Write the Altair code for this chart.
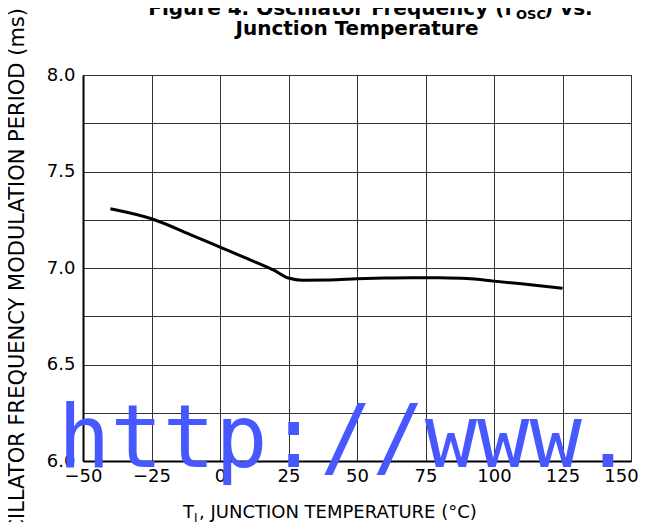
import altair as alt
import pandas as pd

# Curve data
temps = [-40, -25, -10, 0, 10, 20, 25, 30, 40, 50, 60, 70, 80, 90, 100, 110, 125]
period = [7.307, 7.255, 7.168, 7.108, 7.048, 6.986, 6.948, 6.937, 6.938,
          6.944, 6.948, 6.950, 6.949, 6.945, 6.932, 6.918, 6.895]

x_ticks = [-50, -25, 0, 25, 50, 75, 100, 125, 150]
y_ticks = [6.0, 6.25, 6.5, 6.75, 7.0, 7.25, 7.5, 7.75, 8.0]

title_line1_main = "Figure 4. Oscillator Frequency (f"
title_line1_sub = "OSC"
title_line1_end = ") vs."
title_line2 = "Junction Temperature"
xlabel_main = "T"
xlabel_sub = "J"
xlabel_end = ", JUNCTION TEMPERATURE (°C)"
ylabel = "OSCILLATOR FREQUENCY MODULATION PERIOD (ms)"
watermark = "http://www.l"

W, H = 548, 386
FONT = "DejaVu Sans"

df = pd.DataFrame({"t": temps, "p": period})

line = alt.Chart(df).mark_line(color="black", strokeWidth=3, interpolate="monotone").encode(
    x=alt.X("t:Q", scale=alt.Scale(domain=[-50, 150], nice=False, zero=False),
            axis=alt.Axis(values=x_ticks, title=None, grid=True, ticks=False,
                          labelPadding=6, labelFontSize=18, labelFont=FONT, labelColor="black",
                          labelExpr="format(datum.value, 'd')",
                          labelOffset={"condition": {"test": "datum.value == 150", "value": -10},
                                       "value": 0},
                          domainColor="black", domainWidth=2,
                          gridColor="#333", gridWidth=1, gridOpacity=1, labelFlush=False,
                          labelOverlap=False)),
    y=alt.Y("p:Q", scale=alt.Scale(domain=[6.0, 8.0], nice=False, zero=False),
            axis=alt.Axis(values=y_ticks, title=None, grid=True, ticks=False,
                          labelPadding=8, labelFontSize=18, labelFont=FONT, labelColor="black",
                          labelExpr="datum.value % 0.5 == 0 ? format(datum.value, '.1f') : ''",
                          domainColor="black", domainWidth=2,
                          gridColor="#333", gridWidth=1, gridOpacity=1, labelFlush=False,
                          labelOverlap=False)),
)

def txt(s, x, y, size, bold=False, align="left", baseline="alphabetic", angle=0,
        font=FONT, color="black"):
    kw = dict(align=align, baseline=baseline, fontSize=size, font=font, color=color,
              fontWeight="bold" if bold else "normal")
    if angle:
        kw["angle"] = angle
    return alt.Chart(pd.DataFrame({"s": [s]})).mark_text(**kw).encode(
        x=alt.value(x), y=alt.value(y), text="s:N")

layers = [
    line,
    txt(title_line1_main, 430, -60, 20, bold=True, align="right"),
    txt(title_line1_sub, 433, -56, 13, bold=True),
    txt(title_line1_end, 461, -60, 20, bold=True),
    txt(title_line2, W / 2, -40, 20, bold=True, align="center"),
    txt(xlabel_main, 100, 443, 18),
    txt(xlabel_sub, 111, 447, 12),
    txt(xlabel_end, 116, 443, 18),
    txt(ylabel, -59, -67, 21, align="right", angle=270),
    txt(watermark, -25, 392, 87, font="DejaVu Sans Mono", color="#4858ff"),
]

chart = alt.layer(*layers).properties(
    width=W, height=H,
    autosize=alt.AutoSizeParams(type="none"),
    padding={"left": 75, "top": 67, "right": 10, "bottom": 61},
).configure_view(stroke="#333", strokeWidth=1)

chart.save("out.html", embed_options={"renderer": "svg", "actions": False})
